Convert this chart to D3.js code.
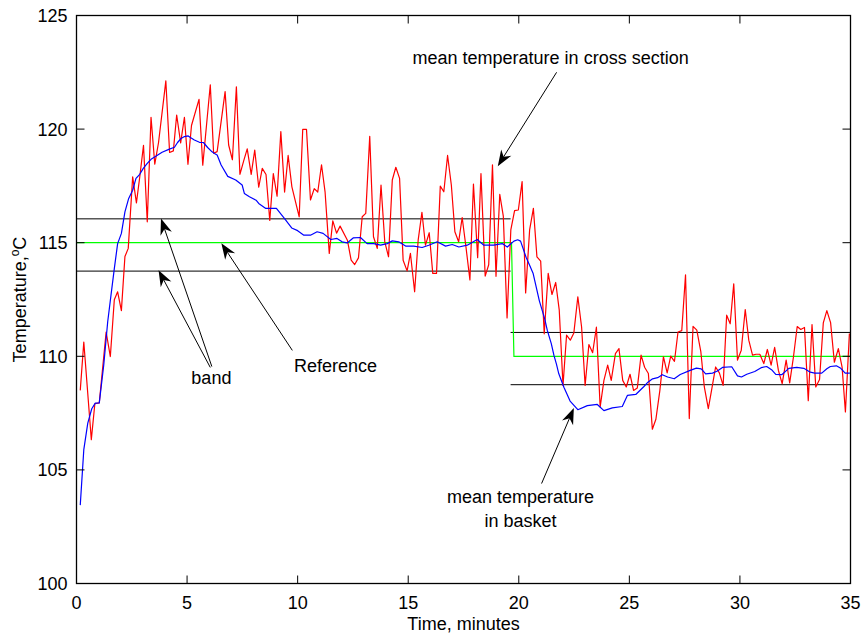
<!DOCTYPE html>
<html>
<head>
<meta charset="utf-8">
<script src="https://cdn.jsdelivr.net/npm/d3@7"></script>
<style>
  body { margin: 0; background: #fff; }
  text { font-family: "Liberation Sans", Arial, Helvetica, sans-serif; font-size: 18px; fill: #000; }
</style>
</head>
<body>
<svg id="chart" width="865" height="637"></svg>
<script>
// Mean temperature in cross section (red), minutes / degC
const redTime = [0.17,0.33,0.67,0.83,1.03,1.34,1.53,1.71,1.86,2.03,2.19,2.34,2.54,2.71,2.86,3.03,3.20,3.37,3.54,3.71,
  4.04,4.21,4.38,4.53,4.71,4.88,5.04,5.20,5.54,5.71,6.05,6.20,6.36,6.72,6.88,7.05,7.23,7.39,7.56,7.72,
  7.90,8.06,8.24,8.40,8.57,8.74,8.90,9.07,9.24,9.41,9.57,9.74,10.07,10.23,10.40,10.58,10.75,10.91,11.08,11.24,
  11.43,11.59,11.76,11.92,12.25,12.42,12.58,12.75,12.92,13.08,13.26,13.43,13.60,13.77,13.94,14.11,14.28,14.44,14.61,14.77,
  14.95,15.10,15.29,15.45,15.62,15.78,15.95,16.11,16.28,16.45,16.61,16.78,16.95,17.11,17.28,17.44,17.61,17.79,17.95,18.14,
  18.29,18.48,18.64,18.81,18.97,19.14,19.30,19.47,19.64,19.81,19.98,20.15,20.31,20.49,20.66,20.82,20.99,21.15,21.33,21.50,
  21.67,21.83,22.00,22.16,22.33,22.49,22.67,22.84,23.00,23.17,23.34,23.51,23.68,23.85,24.02,24.18,24.37,24.53,24.70,24.86,
  25.03,25.19,25.36,25.53,25.69,25.86,26.04,26.20,26.38,26.54,26.71,26.87,27.04,27.20,27.37,27.54,27.71,27.88,28.05,28.23,
  28.39,28.57,28.73,28.90,29.07,29.24,29.40,29.56,29.72,29.89,30.06,30.24,30.40,30.57,30.73,30.90,31.08,31.24,31.41,31.57,
  31.74,31.91,32.09,32.25,32.42,32.59,32.75,32.92,33.09,33.26,33.43,33.60,33.77,33.93,34.10,34.27,34.45,34.62,34.77,34.95];
const redTemp = [108.5,110.63,106.33,107.91,107.95,111.07,109.99,112.49,112.84,112.01,114.39,114.75,117.9,116.75,117.89,119.29,115.92,120.52,118.46,119.41,
  122.12,118.97,119.04,120.62,119.39,120.52,118.45,120.16,121.31,118.41,121.95,118.94,119.01,121.65,119.3,118.65,121.86,118.01,118.6,119.13,
  118.01,119.08,117.44,118.27,118.0,115.98,118.04,117.05,119.89,117.23,118.84,117.46,116.14,119.99,119.99,116.88,117.38,117.23,118.43,117.24,
  114.53,115.96,115.42,115.73,115.11,114.23,114.04,114.33,116.14,116.29,119.68,115.26,114.75,117.54,115.04,114.38,117.76,118.32,117.83,114.23,
  113.76,114.53,112.84,115.11,116.34,114.89,115.44,113.65,113.65,117.49,117.24,118.84,117.54,115.48,115.04,116.11,114.82,113.36,117.58,114.34,
  118.04,113.53,114.03,118.43,113.52,117.13,116.17,111.69,115.56,116.41,116.44,117.69,112.79,115.56,116.51,114.38,114.19,110.99,113.65,112.72,
  113.25,112.03,108.72,110.93,110.71,111.03,112.62,111.29,108.72,110.52,110.16,111.28,107.77,108.94,109.61,108.94,110.12,110.34,108.94,108.65,
  109.21,108.5,108.61,110.05,109.52,109.24,106.79,107.23,108.5,109.98,109.27,110.01,109.78,111.07,111.13,113.59,107.26,111.32,111.15,110.22,
  108.65,107.7,108.58,109.53,109.27,108.72,111.81,111.43,113.19,109.83,110.27,112.06,110.71,110.05,110.09,110.09,109.68,110.3,109.61,110.39,
  109.38,108.8,109.83,108.83,109.97,111.31,111.18,111.27,108.05,111.4,108.65,108.98,111.47,112.01,111.48,109.74,110.34,109.52,107.55,111.0];

// Mean temperature in basket (blue)
const blueTime = [0.17,0.33,0.51,0.69,0.85,1.03,1.23,1.41,1.56,1.71,1.86,2.03,2.19,2.36,2.54,2.69,2.86,3.02,3.20,3.37,
  3.55,3.87,4.20,4.43,4.57,4.73,4.88,5.05,5.15,5.33,5.56,5.74,5.93,6.13,6.24,6.36,6.54,6.84,7.20,7.49,
  7.59,7.82,8.12,8.24,8.56,9.04,9.40,9.73,10.0,10.28,10.58,10.88,11.15,11.50,11.78,12.01,12.24,12.51,12.84,13.14,
  13.44,13.75,14.05,14.28,14.57,14.88,15.25,15.63,15.93,16.31,16.69,16.99,17.29,17.67,18.12,18.42,18.87,19.25,19.48,19.78,
  19.95,20.08,20.33,20.49,20.65,20.93,21.17,21.29,21.47,21.59,21.70,21.81,22.04,22.32,22.67,23.10,23.55,23.85,24.23,24.68,
  24.91,25.29,25.66,25.84,26.05,26.28,26.49,26.73,27.03,27.30,27.75,28.03,28.25,28.45,28.76,28.98,29.21,29.63,29.89,30.07,
  30.31,30.67,30.96,31.21,31.43,31.62,31.89,32.21,32.57,32.89,33.18,33.38,33.70,33.93,34.09,34.36,34.56,34.76,34.97];
const blueTemp = [103.45,105.89,107.06,107.69,107.94,107.95,109.6,111.51,112.69,113.86,114.96,115.41,116.36,116.95,117.31,117.83,118.01,118.27,118.49,118.67,
  118.78,118.98,119.12,119.2,119.41,119.59,119.67,119.7,119.63,119.52,119.42,119.41,119.19,119.0,118.93,118.86,118.42,117.92,117.76,117.54,
  117.17,117.02,116.87,116.73,116.51,116.51,116.07,115.65,115.53,115.33,115.33,115.48,115.41,115.14,115.19,115.04,114.99,115.21,115.23,114.96,
  114.96,114.89,114.96,115.08,115.04,114.85,114.85,114.79,114.89,115.04,114.85,114.92,114.81,114.89,115.14,114.89,114.89,114.96,114.81,115.07,
  115.13,115.07,114.36,114.01,113.64,112.44,111.66,111.14,110.56,110.04,109.67,109.23,108.64,108.03,107.65,107.83,107.88,107.61,107.73,107.79,
  108.28,108.32,108.67,108.86,109.01,109.06,109.19,109.09,109.01,109.2,109.38,109.48,109.45,109.23,109.26,109.35,109.51,109.54,109.14,109.09,
  109.21,109.33,109.5,109.55,109.41,109.2,109.19,109.47,109.51,109.47,109.3,109.26,109.26,109.45,109.55,109.58,109.47,109.26,109.26];

// Reference set point (green)
const refTime = [0, 19.67, 19.78, 35];
const refTemp = [115, 115, 110, 110];

// Tolerance band around each set point
const bandStart = [0, 19.63];
const bandEnd = [19.63, 35];
const bandUpper = [116.05, 111.05];
const bandLower = [113.75, 108.75];

// Axis ticks
const xTicks = [0, 5, 10, 15, 20, 25, 30, 35];
const yTicks = [100, 105, 110, 115, 120, 125];

// Annotation arrows: tail -> head, in (minutes, degC)
const arrowTail = [[21.71, 122.50], [6.12, 109.55], [6.05, 109.51], [9.76, 110.26], [21.03, 104.40]];
const arrowHead = [[19.05, 118.37], [3.82, 116.06], [3.71, 113.79], [6.55, 114.98], [22.49, 107.72]];

// Annotation labels
const noteText = ["mean temperature in cross section", "band", "Reference", "mean temperature", "in basket"];
const notePos = [[21.44, 122.88], [6.10, 108.76], [11.71, 109.29], [20.08, 103.53], [20.08, 102.50]];

const svg = d3.select("#chart");
const x = d3.scaleLinear().domain([0, 35]).range([76.5, 850.5]);
const y = d3.scaleLinear().domain([100, 125]).range([583.5, 15.5]);

// Band and reference lines
const bands = svg.append("g").attr("stroke", "#000").attr("stroke-width", 1);
bandStart.forEach((s, i) => {
  [bandUpper[i], bandLower[i]].forEach(v => {
    bands.append("line")
      .attr("x1", x(s)).attr("x2", x(bandEnd[i]))
      .attr("y1", y(v)).attr("y2", y(v));
  });
});

const line = d3.line().x(d => x(d[0])).y(d => y(d[1]));

svg.append("path")
  .datum(d3.zip(refTime, refTemp))
  .attr("fill", "none").attr("stroke", "#00ff00").attr("stroke-width", 1.2)
  .attr("d", line);

svg.append("path")
  .datum(d3.zip(redTime, redTemp))
  .attr("fill", "none").attr("stroke", "#ff0000").attr("stroke-width", 1.2)
  .attr("stroke-linejoin", "round")
  .attr("d", line);

svg.append("path")
  .datum(d3.zip(blueTime, blueTemp))
  .attr("fill", "none").attr("stroke", "#0000ff").attr("stroke-width", 1.2)
  .attr("stroke-linejoin", "round")
  .attr("d", line);

// Axes box with inward ticks on all four sides
const axes = svg.append("g");
axes.append("rect")
  .attr("x", x(0)).attr("y", y(125))
  .attr("width", x(35) - x(0)).attr("height", y(100) - y(125))
  .attr("fill", "none").attr("stroke", "#000").attr("stroke-width", 1.3);

const tickLen = 8;
xTicks.forEach(t => {
  axes.append("line").attr("x1", x(t)).attr("x2", x(t))
    .attr("y1", y(100)).attr("y2", y(100) - tickLen).attr("stroke", "#000");
  axes.append("line").attr("x1", x(t)).attr("x2", x(t))
    .attr("y1", y(125)).attr("y2", y(125) + tickLen).attr("stroke", "#000");
  axes.append("text").attr("x", x(t)).attr("y", y(100) + 25.5)
    .attr("text-anchor", "middle").text(t);
});
yTicks.forEach(v => {
  axes.append("line").attr("x1", x(0)).attr("x2", x(0) + tickLen)
    .attr("y1", y(v)).attr("y2", y(v)).attr("stroke", "#000");
  axes.append("line").attr("x1", x(35)).attr("x2", x(35) - tickLen)
    .attr("y1", y(v)).attr("y2", y(v)).attr("stroke", "#000");
  axes.append("text").attr("x", x(0) - 9).attr("y", y(v) + 6.5)
    .attr("text-anchor", "end").text(v);
});

// Axis titles
axes.append("text").attr("x", (x(0) + x(35)) / 2).attr("y", 630)
  .attr("text-anchor", "middle").text("Time, minutes");

const ylab = axes.append("text")
  .attr("transform", `translate(26,${(y(100) + y(125)) / 2}) rotate(-90)`)
  .attr("text-anchor", "middle");
ylab.append("tspan").text("Temperature,");
ylab.append("tspan").attr("font-size", "12px").attr("dy", -7).text("o");
ylab.append("tspan").attr("dy", 7).text("C");

// Annotations
const notes = svg.append("g");
noteText.forEach((s, i) => {
  notes.append("text").attr("x", x(notePos[i][0])).attr("y", y(notePos[i][1]))
    .attr("text-anchor", "middle").text(s);
});

const headLen = 16, headWid = 12, notch = 11;
arrowTail.forEach((tail, i) => {
  const x1 = x(tail[0]), y1 = y(tail[1]);
  const x2 = x(arrowHead[i][0]), y2 = y(arrowHead[i][1]);
  const ang = Math.atan2(y2 - y1, x2 - x1);
  const bx = x2 - notch * Math.cos(ang), by = y2 - notch * Math.sin(ang);
  notes.append("line").attr("x1", x1).attr("y1", y1).attr("x2", bx).attr("y2", by)
    .attr("stroke", "#000").attr("stroke-width", 1);
  notes.append("path")
    .attr("d", `M0,0 L${-headLen},${-headWid / 2} L${-notch},0 L${-headLen},${headWid / 2} Z`)
    .attr("transform", `translate(${x2},${y2}) rotate(${ang * 180 / Math.PI})`)
    .attr("fill", "#000");
});
</script>
</body>
</html>
